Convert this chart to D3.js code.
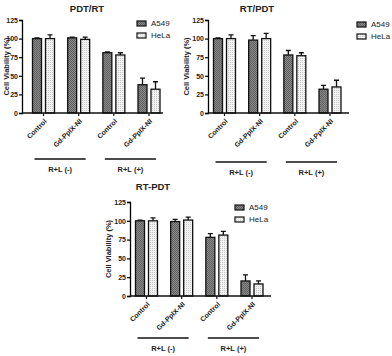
<!DOCTYPE html>
<meta charset="utf-8">
<style>
body { margin: 0; background: #fff; }
text { font-family: "Liberation Sans", Arial, sans-serif; fill: #222; }
.tick text { font-weight: bold; font-size: 7px; }
</style>
<body>
<script src="https://cdn.jsdelivr.net/npm/d3@7"></script>
<div id="content"></div>
<script>
var width = 392, height = 356;

// data
var titles = ["PDT/RT", "RT/PDT", "RT-PDT"];
var groups = ["Control", "Gd-PpIX-NI", "Control ", "Gd-PpIX-NI "];
var series = ["A549", "HeLa"];
var brackets = ["R+L (-)", "R+L (+)"];
var yTicks = [0, 25, 50, 75, 100, 125];

var a549 = [[100, 101, 81, 38], [100, 98, 78, 32], [100, 99, 78, 20]];
var a549Err = [[1, 1, 1, 9], [1, 6, 6, 5], [1, 3, 5, 8]];
var hela = [[100, 99, 78, 32], [100, 100, 77, 35], [100, 101, 81, 16]];
var helaErr = [[5, 3, 3, 10], [5, 7, 4, 9], [4, 4, 5, 4]];

// panel layout
var panels = [
  {x0: 22, top: 20, bottom: 113, c0: 21.5, title: [87, 12], ylab: 9, leg: [137, 21], brY: 159},
  {x0: 208, top: 20, bottom: 113, c0: 16.5, title: [257, 12], ylab: 189, leg: [357, 22], brY: 162},
  {x0: 130, top: 202, bottom: 296, c0: 16.5, title: [153, 190], ylab: 111, leg: [235, 205], brY: 338}
];

var svg = d3.select("#content").append("svg")
    .attr("width", width)
    .attr("height", height);

var defs = svg.append("defs");
var pA = defs.append("pattern").attr("id", "patA")
    .attr("patternUnits", "userSpaceOnUse").attr("width", 2).attr("height", 2);
pA.append("rect").attr("width", 2).attr("height", 2).attr("fill", "#8a8a8a");
pA.append("rect").attr("width", 1).attr("height", 1).attr("fill", "#606060");
pA.append("rect").attr("x", 1).attr("y", 1).attr("width", 1).attr("height", 1).attr("fill", "#606060");
var pH = defs.append("pattern").attr("id", "patH")
    .attr("patternUnits", "userSpaceOnUse").attr("width", 2).attr("height", 2);
pH.append("rect").attr("width", 2).attr("height", 2).attr("fill", "#f2f2f2");
pH.append("rect").attr("width", 1).attr("height", 1).attr("fill", "#c8c8c8");

var fills = ["url(#patA)", "url(#patH)"];

panels.forEach(function(p, pi) {
  var g = svg.append("g");
  var y = d3.scaleLinear().domain([0, 125]).range([p.bottom, p.top]);
  var x = d3.scalePoint().domain(groups)
      .range([p.x0 + p.c0, p.x0 + p.c0 + 105.5]);
  var bw = 9, off = 1.5;

  var rows = groups.map(function(gr, i) {
    return [
      {g: gr, s: 0, v: a549[pi][i], e: a549Err[pi][i]},
      {g: gr, s: 1, v: hela[pi][i], e: helaErr[pi][i]}
    ];
  }).flat();

  var bx = function(d) { return d.s === 0 ? x(d.g) - off - bw - 0.5 : x(d.g) + off + 0.5; };

  // error bars
  g.selectAll(".err").data(rows).enter().append("path")
    .attr("d", function(d) {
      var cx = bx(d) + bw / 2;
      return "M" + cx + "," + y(d.v) + "V" + y(d.v + d.e) +
        "M" + (cx - 2.5) + "," + y(d.v + d.e) + "H" + (cx + 2.5);
    })
    .attr("stroke", "#111").attr("stroke-width", 1.3).attr("fill", "none");

  g.selectAll(".bar").data(rows).enter().append("rect")
    .attr("x", bx)
    .attr("y", function(d) { return y(d.v); })
    .attr("width", bw)
    .attr("height", function(d) { return y(0) - y(d.v); })
    .attr("fill", function(d) { return fills[d.s]; })
    .attr("stroke", "#111").attr("stroke-width", 1.3);

  // y axis
  var ya = g.append("g").attr("transform", "translate(" + p.x0 + ",0)")
    .call(d3.axisLeft(y).tickValues(yTicks).tickSize(3).tickPadding(1));
  ya.select(".domain").attr("stroke-width", 1.3);
  ya.selectAll(".tick line").attr("stroke-width", 1.2);
  ya.selectAll(".tick text").attr("font-family", null);

  // x axis
  var xa = g.append("g").attr("transform", "translate(0," + p.bottom + ")");
  xa.append("line").attr("x1", p.x0).attr("x2", p.x0 + 141)
    .attr("stroke", "#111").attr("stroke-width", 1.3);
  var xt = xa.selectAll(".tick").data(groups).enter().append("g")
    .attr("class", "tick")
    .attr("transform", function(d) { return "translate(" + x(d) + ",0)"; });
  xt.append("line").attr("y2", 3).attr("stroke", "#111").attr("stroke-width", 1.2);
  xt.append("text")
    .attr("transform", "translate(2,7) rotate(-45)")
    .attr("text-anchor", "end")
    .attr("dy", "0.35em")
    .text(function(d) { return d.trim(); });

  // titles
  g.append("text").attr("x", p.title[0]).attr("y", p.title[1])
    .attr("text-anchor", "middle").attr("font-weight", "bold").attr("font-size", 9.5)
    .text(titles[pi]);
  g.append("text")
    .attr("transform", "translate(" + p.ylab + "," + y(62.5) + ") rotate(-90)")
    .attr("text-anchor", "middle").attr("font-weight", "bold").attr("font-size", 7.5)
    .text("Cell Viability (%)");

  // legend
  series.forEach(function(s, si) {
    g.append("rect").attr("x", p.leg[0]).attr("y", p.leg[1] + si * 12)
      .attr("width", 9).attr("height", 5)
      .attr("fill", fills[si]).attr("stroke", "#111").attr("stroke-width", 1.2);
    g.append("text").attr("x", p.leg[0] + 14).attr("y", p.leg[1] + si * 12 + 2.5)
      .attr("dy", "0.35em").attr("font-size", 8).text(s);
  });

  // brackets
  brackets.forEach(function(b, bi) {
    var l = x(groups[bi * 2]) - 9, r = x(groups[bi * 2 + 1]) + 7;
    g.append("line").attr("x1", l).attr("x2", r)
      .attr("y1", p.brY).attr("y2", p.brY)
      .attr("stroke", "#111").attr("stroke-width", 1.6);
    g.append("text").attr("x", (l + r) / 2).attr("y", p.brY + 10)
      .attr("dy", "0.35em").attr("text-anchor", "middle")
      .attr("font-weight", "bold").attr("font-size", 7.5).text(b);
  });
});
</script>
</body>
